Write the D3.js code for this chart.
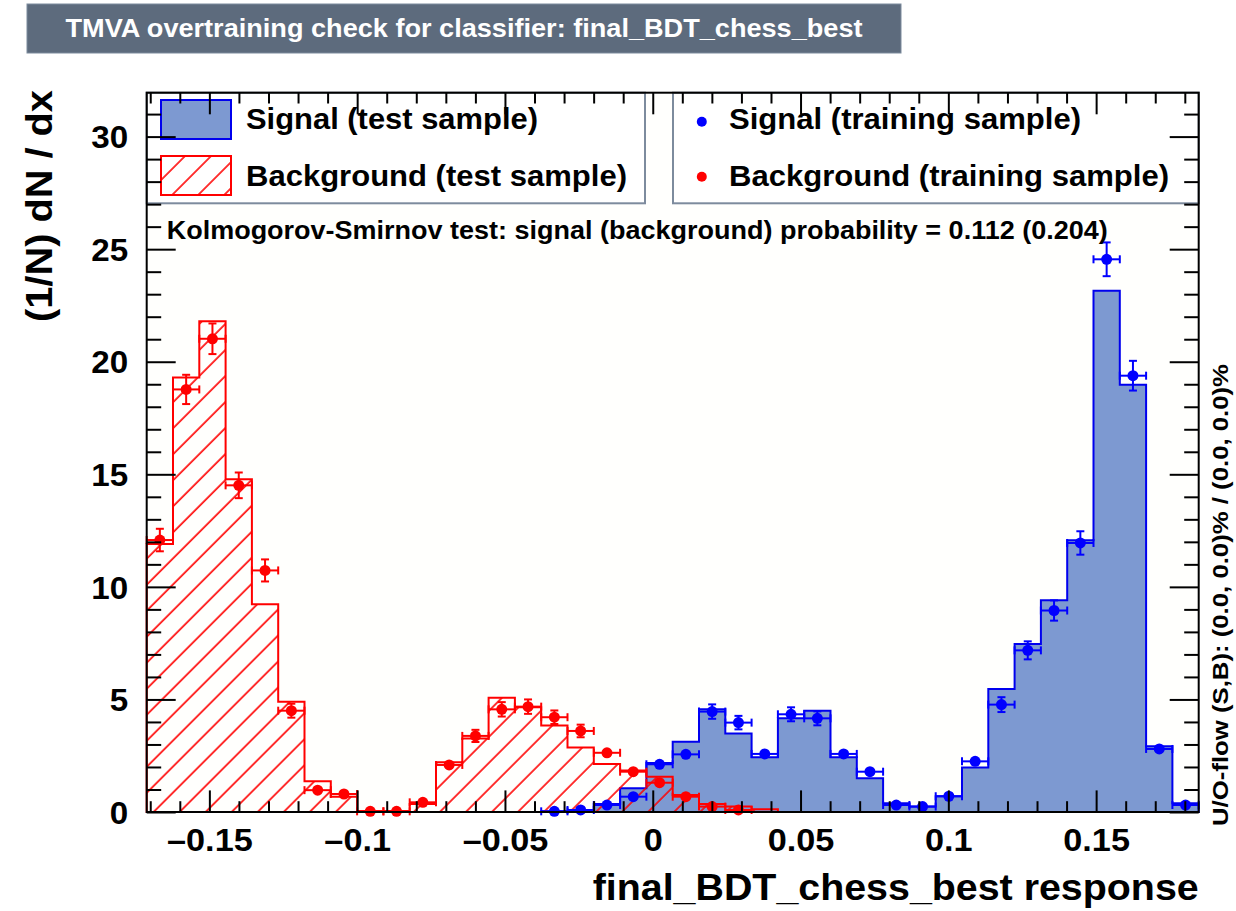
<!DOCTYPE html>
<html>
<head>
<meta charset="utf-8">
<script src="https://cdn.jsdelivr.net/npm/d3@7"></script>
<style>
  html, body { margin: 0; padding: 0; background: #ffffff; }
  svg { display: block; font-family: "Liberation Sans", Arial, Helvetica, sans-serif; font-weight: bold; }
</style>
</head>
<body>
<svg id="chart" width="1236" height="911"></svg>
<script>
// ---- binning of the classifier response ----
const xLow = -0.1712;
const xHigh = 0.1847;
const nBins = 40;
const yTop = 31.95;

// ---- normalised test-sample histograms, (1/N) dN/dx per bin ----
const signalTest = [
  0, 0, 0, 0, 0, 0, 0, 0, 0, 0,
  0, 0, 0, 0, 0, 0.03, 0.04, 0.36, 1.06, 2.18,
  3.12, 4.56, 3.49, 2.43, 4.16, 4.50, 2.43, 1.50, 0.39, 0.24,
  0.70, 1.98, 5.46, 7.46, 9.41, 12.07, 23.15, 18.98, 2.92, 0.39
];
const backgroundTest = [
  11.90, 19.30, 21.80, 14.78, 9.23, 4.90, 1.37, 0.68, 0.04, 0.04,
  0.35, 2.21, 3.27, 5.08, 4.65, 3.84, 2.87, 2.13, 1.84, 1.57,
  0.76, 0.36, 0.24, 0.12, 0, 0, 0, 0, 0, 0,
  0, 0, 0, 0, 0, 0, 0, 0, 0, 0
];

// ---- training-sample points and their errors (null = empty bin) ----
const signalTrain = [
  null, null, null, null, null, null, null, null, null, null,
  null, null, null, null, null, 0.03, 0.09, 0.31, 0.68, 2.12,
  2.56, 4.46, 3.97, 2.58, 4.34, 4.16, 2.58, 1.79, 0.31, 0.24,
  0.70, 2.25, 4.77, 7.18, 8.95, 11.95, 24.55, 19.38, 2.80, 0.31
];
const signalTrainErr = [
  0, 0, 0, 0, 0, 0, 0, 0, 0, 0,
  0, 0, 0, 0, 0, 0.03, 0.04, 0.08, 0.12, 0.22,
  0.24, 0.32, 0.30, 0.24, 0.31, 0.31, 0.24, 0.20, 0.08, 0.07,
  0.12, 0.22, 0.33, 0.40, 0.45, 0.52, 0.75, 0.66, 0.25, 0.08
];
const backgroundTrain = [
  12.08, 18.77, 21.02, 14.51, 10.73, 4.50, 0.97, 0.80, 0.03, 0.03,
  0.43, 2.09, 3.38, 4.56, 4.68, 4.21, 3.60, 2.63, 1.79, 1.30,
  0.68, 0.24, 0.09, null, null, null, null, null, null, null,
  null, null, null, null, null, null, null, null, null, null
];
const backgroundTrainErr = [
  0.50, 0.65, 0.68, 0.57, 0.49, 0.31, 0.15, 0.13, 0.03, 0.03,
  0.10, 0.21, 0.27, 0.32, 0.32, 0.30, 0.28, 0.24, 0.20, 0.17,
  0.12, 0.07, 0.05, 0, 0, 0, 0, 0, 0, 0,
  0, 0, 0, 0, 0, 0, 0, 0, 0, 0
];

// ---- axis ticks and texts ----
const xMajorTicks = [-0.15, -0.1, -0.05, 0, 0.05, 0.1, 0.15];
const xMinorTicks = [-0.17, -0.16, -0.14, -0.13, -0.12, -0.11, -0.09, -0.08, -0.07, -0.06,
                     -0.04, -0.03, -0.02, -0.01, 0.01, 0.02, 0.03, 0.04, 0.06, 0.07,
                     0.08, 0.09, 0.11, 0.12, 0.13, 0.14, 0.16, 0.17, 0.18];
const yMajorTicks = [0, 5, 10, 15, 20, 25, 30];
const yMinorTicks = [1, 2, 3, 4, 6, 7, 8, 9, 11, 12, 13, 14, 16, 17, 18, 19,
                     21, 22, 23, 24, 26, 27, 28, 29, 31];
const titleText = "TMVA overtraining check for classifier: final_BDT_chess_best";
const xTitle = "final_BDT_chess_best response";
const yTitle = "(1/N) dN / dx";
const ksText = "Kolmogorov-Smirnov test: signal (background) probability = 0.112 (0.204)";
const flowText = "U/O-flow (S,B): (0.0, 0.0)% / (0.0, 0.0)%";
const legendTest = ["Signal (test sample)", "Background (test sample)"];
const legendTrain = ["Signal (training sample)", "Background (training sample)"];

// ---- colours ----
const sigLine = "#0000ee", sigFill = "#7d99d1", sigPoint = "#0000ff";
const bkgLine = "#ff0000";
const boxFill = "#5d6b7d", boxBorder = "#7d8b9d";

const svg = d3.select("#chart");
const frame = { left: 146.7, right: 1198.7, top: 92.7, bottom: 812 };

const x = d3.scaleLinear().domain([xLow, xHigh]).range([frame.left, frame.right]);
const y = d3.scaleLinear().domain([0, yTop]).range([frame.bottom, frame.top]);
const binW = (xHigh - xLow) / nBins;
const edge = i => xLow + i * binW;
const centre = i => xLow + (i + 0.5) * binW;

// hatch pattern for the background histogram
const defs = svg.append("defs");
defs.append("pattern")
  .attr("id", "hatch")
  .attr("patternUnits", "userSpaceOnUse")
  .attr("width", 18.4).attr("height", 18.4)
  .attr("patternTransform", "rotate(45)")
  .append("line")
  .attr("x1", 2).attr("y1", -2).attr("x2", 2).attr("y2", 21)
  .attr("stroke", bkgLine).attr("stroke-width", 1.6);

// frame background
svg.append("rect")
  .attr("x", frame.left).attr("y", frame.top)
  .attr("width", frame.right - frame.left).attr("height", frame.bottom - frame.top)
  .attr("fill", "#fffffd");

// step outline of a histogram, closed along the baseline
function stepPoints(values) {
  const pts = [[x(edge(0)), y(0)]];
  values.forEach((v, i) => {
    pts.push([x(edge(i)), y(v)]);
    pts.push([x(edge(i + 1)), y(v)]);
  });
  pts.push([x(edge(values.length)), y(0)]);
  return pts;
}
const line = d3.line();

const plot = svg.append("g");
plot.append("path")
  .attr("d", line(stepPoints(signalTest)) + "Z")
  .attr("fill", sigFill).attr("stroke", sigLine).attr("stroke-width", 2);
plot.append("path")
  .attr("d", line(stepPoints(backgroundTest)) + "Z")
  .attr("fill", "url(#hatch)").attr("stroke", bkgLine).attr("stroke-width", 2);

// training points with error bars and end caps
function drawPoints(values, errors, colour) {
  const g = plot.append("g").attr("stroke", colour).attr("fill", colour).attr("stroke-width", 2);
  const cap = 4;
  values.forEach((v, i) => {
    if (v === null) return;
    const cx = x(centre(i)), cy = y(v);
    const x0 = x(edge(i)), x1 = x(edge(i + 1));
    const yHi = y(v + errors[i]), yLo = y(Math.max(0, v - errors[i]));
    g.append("line").attr("x1", x0).attr("x2", x1).attr("y1", cy).attr("y2", cy);
    g.append("line").attr("x1", x0).attr("x2", x0).attr("y1", cy - cap).attr("y2", cy + cap);
    g.append("line").attr("x1", x1).attr("x2", x1).attr("y1", cy - cap).attr("y2", cy + cap);
    if (cy - yHi > 6) {
      g.append("line").attr("x1", cx).attr("x2", cx).attr("y1", yHi).attr("y2", yLo);
      g.append("line").attr("x1", cx - cap).attr("x2", cx + cap).attr("y1", yHi).attr("y2", yHi);
      g.append("line").attr("x1", cx - cap).attr("x2", cx + cap).attr("y1", yLo).attr("y2", yLo);
    }
    g.append("circle").attr("cx", cx).attr("cy", cy).attr("r", 5.5).attr("stroke", "none");
  });
}
drawPoints(signalTrain, signalTrainErr, sigPoint);
drawPoints(backgroundTrain, backgroundTrainErr, bkgLine);

// stretch helper: widens text a little, as in the original canvas
function stretch(sel, factor) {
  sel.each(function () {
    const w = this.getComputedTextLength();
    this.setAttribute("textLength", w * factor);
    this.setAttribute("lengthAdjust", "spacingAndGlyphs");
  });
}
function fitTo(sel, width) {
  sel.attr("textLength", width).attr("lengthAdjust", "spacingAndGlyphs");
}

// ---- legends ----
const leg = svg.append("g");
leg.append("rect").attr("x", frame.left).attr("y", frame.top)
  .attr("width", 645 - frame.left).attr("height", 203.3 - frame.top)
  .attr("fill", "#ffffff").attr("stroke", boxBorder).attr("stroke-width", 2);
leg.append("rect").attr("x", 673).attr("y", frame.top)
  .attr("width", frame.right - 673).attr("height", 203.3 - frame.top)
  .attr("fill", "#ffffff").attr("stroke", boxBorder).attr("stroke-width", 2);

leg.append("rect").attr("x", 161).attr("y", 100).attr("width", 70).attr("height", 39)
  .attr("fill", sigFill).attr("stroke", sigLine).attr("stroke-width", 2);
leg.append("rect").attr("x", 161).attr("y", 156).attr("width", 70).attr("height", 39)
  .attr("fill", "url(#hatch)").attr("stroke", bkgLine).attr("stroke-width", 2);

const legWidthsTest = [292, 381];
const legWidthsTrain = [352, 440];
const legBase = [129.3, 186];
legendTest.forEach((t, i) => {
  leg.append("text").attr("x", 246).attr("y", legBase[i]).attr("font-size", 29)
    .attr("fill", "#000").text(t).call(fitTo, legWidthsTest[i]);
});
[sigPoint, bkgLine].forEach((c, i) => {
  leg.append("circle").attr("cx", 701.8).attr("cy", [121.7, 176.7][i]).attr("r", 5).attr("fill", c);
});
legendTrain.forEach((t, i) => {
  leg.append("text").attr("x", 729).attr("y", legBase[i]).attr("font-size", 29)
    .attr("fill", "#000").text(t).call(fitTo, legWidthsTrain[i]);
});

// Kolmogorov-Smirnov result
svg.append("text").attr("x", 166.7).attr("y", 239.3).attr("font-size", 25)
  .attr("fill", "#000").text(ksText).call(fitTo, 941);

// ---- axes on all four sides ----
const fmt = d => {
  if (d === 0) return "0";
  const s = String(Math.abs(+d.toFixed(2)));
  return (d < 0 ? "\u2013" : "") + s;
};
const axes = svg.append("g");
function styleAxis(g) {
  g.select(".domain").remove();
  g.selectAll(".tick line").attr("stroke", "#000").attr("stroke-width", 2);
}
const gx = axes.append("g").attr("transform", `translate(0,${frame.bottom})`)
  .call(d3.axisBottom(x).tickValues(xMajorTicks).tickSize(-21.6).tickPadding(16).tickFormat(fmt))
  .call(styleAxis);
axes.append("g").attr("transform", `translate(0,${frame.bottom})`)
  .call(d3.axisBottom(x).tickValues(xMinorTicks).tickSize(-10.8).tickFormat(""))
  .call(styleAxis);
axes.append("g").attr("transform", `translate(0,${frame.top})`)
  .call(d3.axisTop(x).tickValues(xMajorTicks).tickSize(-21.6).tickFormat(""))
  .call(styleAxis);
axes.append("g").attr("transform", `translate(0,${frame.top})`)
  .call(d3.axisTop(x).tickValues(xMinorTicks).tickSize(-10.8).tickFormat(""))
  .call(styleAxis);
const gy = axes.append("g").attr("transform", `translate(${frame.left},0)`)
  .call(d3.axisLeft(y).tickValues(yMajorTicks).tickSize(-29).tickPadding(18.5).tickFormat(d3.format("d")))
  .call(styleAxis);
axes.append("g").attr("transform", `translate(${frame.left},0)`)
  .call(d3.axisLeft(y).tickValues(yMinorTicks).tickSize(-14.5).tickFormat(""))
  .call(styleAxis);
axes.append("g").attr("transform", `translate(${frame.right},0)`)
  .call(d3.axisRight(y).tickValues(yMajorTicks).tickSize(-29).tickFormat(""))
  .call(styleAxis);
axes.append("g").attr("transform", `translate(${frame.right},0)`)
  .call(d3.axisRight(y).tickValues(yMinorTicks).tickSize(-14.5).tickFormat(""))
  .call(styleAxis);

gx.selectAll("text").attr("font-size", 32).attr("font-family", null).attr("fill", "#000")
  .attr("font-weight", "bold").call(stretch, 1.07);
gy.selectAll("text").attr("font-size", 31).attr("font-family", null).attr("fill", "#000")
  .attr("dy", "0.36em").attr("font-weight", "bold").call(stretch, 1.07);

axes.append("rect")
  .attr("x", frame.left).attr("y", frame.top)
  .attr("width", frame.right - frame.left).attr("height", frame.bottom - frame.top)
  .attr("fill", "none").attr("stroke", "#000").attr("stroke-width", 2);

// axis titles
svg.append("text").attr("x", frame.right).attr("y", 900).attr("text-anchor", "end")
  .attr("font-size", 36).attr("fill", "#000").text(xTitle).call(fitTo, 606);
svg.append("text").attr("transform", `translate(52,${90}) rotate(-90)`)
  .attr("text-anchor", "end").attr("font-size", 36).attr("fill", "#000")
  .text(yTitle).call(fitTo, 232);

// under/overflow note on the right edge
svg.append("text").attr("transform", `translate(1228,826) rotate(-90)`)
  .attr("text-anchor", "start").attr("font-size", 22).attr("fill", "#000")
  .text(flowText).call(fitTo, 462);

// title box
svg.append("rect").attr("x", 27).attr("y", 4).attr("width", 874).attr("height", 49)
  .attr("fill", boxFill).attr("stroke", boxBorder).attr("stroke-width", 1);
svg.append("text").attr("x", 464).attr("y", 37).attr("text-anchor", "middle")
  .attr("font-size", 26).attr("fill", "#ffffff").text(titleText).call(fitTo, 797);
</script>
</body>
</html>
